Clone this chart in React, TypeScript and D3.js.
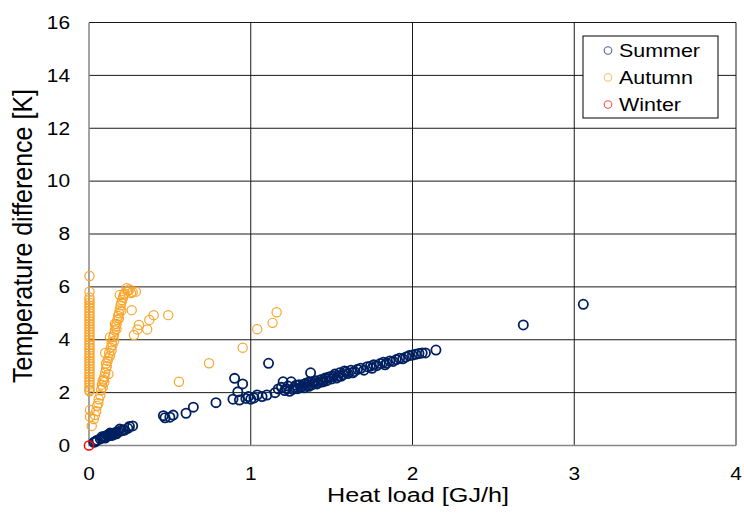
import React, { useEffect, useRef } from "react";
import * as d3 from "d3";

// heat load [GJ/h], temperature difference [K]
const summer: [number, number][] = [
  [0.03, 0.12], [0.04, 0.15], [0.05, 0.2], [0.07, 0.25], [0.08, 0.33], [0.09, 0.3],
  [0.1, 0.35], [0.1, 0.28], [0.11, 0.38], [0.12, 0.4], [0.12, 0.36], [0.13, 0.42],
  [0.13, 0.47], [0.14, 0.45], [0.14, 0.38], [0.15, 0.44], [0.15, 0.4], [0.16, 0.48],
  [0.17, 0.5], [0.17, 0.44], [0.18, 0.52], [0.19, 0.62], [0.2, 0.55], [0.21, 0.6],
  [0.22, 0.58], [0.24, 0.65], [0.25, 0.72], [0.27, 0.74],
  [0.46, 1.13], [0.47, 1.05], [0.5, 1.07], [0.52, 1.15], [0.6, 1.22], [0.645, 1.45],
  [0.785, 1.62], [0.89, 1.75], [0.9, 2.54], [0.92, 2.03], [0.95, 2.33], [0.93, 1.72],
  [0.97, 1.78], [0.985, 1.85], [1.0, 1.75], [1.02, 1.8], [1.04, 1.91], [1.07, 1.85],
  [1.1, 1.91], [1.11, 3.11], [1.15, 2.0], [1.17, 2.14], [1.19, 2.2], [1.2, 2.41],
  [1.21, 2.08], [1.22, 2.15], [1.23, 2.25], [1.24, 2.05], [1.25, 2.41], [1.26, 2.12],
  [1.27, 2.2], [1.28, 2.28], [1.29, 2.15], [1.3, 2.3], [1.31, 2.2], [1.32, 2.25],
  [1.33, 2.32], [1.33, 2.18], [1.34, 2.35], [1.35, 2.28], [1.36, 2.4], [1.36, 2.24],
  [1.37, 2.75], [1.38, 2.4], [1.38, 2.3], [1.39, 2.36], [1.4, 2.45], [1.41, 2.33],
  [1.42, 2.38], [1.43, 2.48], [1.44, 2.5], [1.44, 2.4], [1.45, 2.42], [1.46, 2.55],
  [1.47, 2.45], [1.48, 2.58], [1.49, 2.6], [1.5, 2.52], [1.51, 2.62], [1.52, 2.7],
  [1.53, 2.55], [1.54, 2.62], [1.55, 2.75], [1.56, 2.62], [1.57, 2.68], [1.58, 2.82],
  [1.59, 2.78], [1.6, 2.72], [1.62, 2.85], [1.63, 2.75], [1.64, 2.8], [1.66, 2.88],
  [1.68, 2.92], [1.7, 2.85], [1.72, 2.98], [1.74, 3.0], [1.75, 2.92], [1.76, 3.05],
  [1.78, 3.02], [1.8, 3.1], [1.82, 3.15], [1.83, 3.05], [1.84, 3.12], [1.86, 3.2],
  [1.88, 3.18], [1.9, 3.25], [1.92, 3.3], [1.94, 3.28], [1.96, 3.35], [1.98, 3.4],
  [2.0, 3.42], [2.02, 3.45], [2.04, 3.48], [2.06, 3.5], [2.08, 3.5], [2.145, 3.61],
  [2.685, 4.56], [3.056, 5.34],
];

const autumn: [number, number][] = [
  // column at zero load
  [0.003, 2.05], [0.003, 2.1], [0.003, 2.2], [0.003, 2.3], [0.003, 2.4], [0.003, 2.5],
  [0.003, 2.6], [0.003, 2.7], [0.003, 2.8], [0.003, 2.9], [0.003, 3.0], [0.003, 3.1],
  [0.003, 3.2], [0.003, 3.3], [0.003, 3.4], [0.003, 3.5], [0.003, 3.6], [0.003, 3.7],
  [0.003, 3.8], [0.003, 3.9], [0.003, 4.0], [0.003, 4.1], [0.003, 4.2], [0.003, 4.3],
  [0.003, 4.4], [0.003, 4.5], [0.003, 4.6], [0.003, 4.7], [0.003, 4.8], [0.003, 4.9],
  [0.003, 5.0], [0.003, 5.1], [0.003, 5.2], [0.003, 5.3], [0.003, 5.4], [0.003, 5.5],
  [0.003, 5.6], [0.003, 5.82], [0.003, 6.41],
  [0.006, 1.34], [0.006, 1.09], [0.017, 0.74], [0.03, 1.0], [0.037, 1.15], [0.045, 1.3],
  [0.058, 1.6], [0.05, 1.5], [0.06, 1.75], [0.07, 1.9], [0.075, 2.1], [0.08, 2.3],
  [0.085, 2.2], [0.085, 2.45], [0.09, 2.5], [0.095, 2.6], [0.095, 2.4], [0.1, 2.75],
  [0.1, 3.5], [0.105, 2.9], [0.105, 3.1], [0.11, 3.0], [0.115, 3.2], [0.12, 3.3],
  [0.12, 2.7], [0.125, 3.5], [0.13, 3.4], [0.13, 4.1], [0.135, 3.7], [0.14, 3.9],
  [0.14, 3.6], [0.145, 3.8], [0.15, 4.1], [0.155, 4.2], [0.155, 3.95], [0.16, 4.35],
  [0.16, 4.6], [0.165, 4.5], [0.17, 4.6], [0.17, 4.4], [0.175, 4.75], [0.18, 4.9],
  [0.185, 5.0], [0.185, 4.8], [0.19, 5.15], [0.195, 5.3], [0.2, 5.4], [0.2, 5.1],
  [0.205, 5.5], [0.21, 5.6], [0.215, 5.7], [0.19, 5.69], [0.22, 5.75], [0.233, 5.95],
  [0.24, 5.85], [0.25, 5.9], [0.26, 5.77], [0.27, 5.8], [0.29, 5.82],
  [0.264, 5.12], [0.278, 4.18], [0.3, 4.39], [0.309, 4.56], [0.36, 4.39], [0.373, 4.75],
  [0.4, 4.93], [0.49, 4.93], [0.556, 2.41], [0.742, 3.11], [0.95, 3.7], [1.04, 4.4],
  [1.135, 4.64], [1.16, 5.04],
];

const winter: [number, number][] = [[0, 0]];

const seriesNames = ["Summer", "Autumn", "Winter"];
const seriesColors = ["#002060", "#F9A42A", "#FF0000"];
const xTicks = [0, 1, 2, 3, 4];
const yTicks = [0, 2, 4, 6, 8, 10, 12, 14, 16];

const App = () => {
  const svgRef = useRef<SVGSVGElement>(null);

  useEffect(() => {
    const width = 744;
    const height = 516;
    const font = "'Liberation Sans', Arial, sans-serif";
    const sx = 1.16; // the original text is a little stretched sideways

    const svg = d3.select(svgRef.current);
    svg.selectAll("*").remove();
    svg.attr("width", width).attr("height", height);

    const x = d3.scaleLinear().domain([0, 4]).range([89, 736]);
    const y = d3.scaleLinear().domain([0, 16]).range([445.5, 22.5]);

    svg.append("rect").attr("width", width).attr("height", height).attr("fill", "#fff");

    // gridlines
    const grid = svg.append("g").attr("stroke", "#1a1a1a").attr("stroke-width", 1);
    grid
      .selectAll(".h")
      .data(yTicks.filter((d) => d > 0))
      .join("line")
      .attr("x1", x(0))
      .attr("x2", x(4))
      .attr("y1", (d) => y(d))
      .attr("y2", (d) => y(d));
    grid
      .selectAll(".v")
      .data(xTicks.filter((d) => d > 0))
      .join("line")
      .attr("x1", (d) => x(d))
      .attr("x2", (d) => x(d))
      .attr("y1", y(0))
      .attr("y2", y(16));

    // axis lines
    svg
      .append("path")
      .attr("d", `M${x(0)},${y(16)}V${y(0)}H${x(4)}`)
      .attr("fill", "none")
      .attr("stroke", "#868686")
      .attr("stroke-width", 1.5);

    // tick labels
    svg
      .append("g")
      .selectAll("text")
      .data(yTicks)
      .join("text")
      .attr("transform", (d) => `translate(70, ${y(d)}) scale(${sx}, 1)`)
      .attr("dy", "0.35em")
      .attr("text-anchor", "end")
      .style("font-family", font)
      .style("font-size", "18px")
      .text((d) => d);

    svg
      .append("g")
      .selectAll("text")
      .data(xTicks)
      .join("text")
      .attr("transform", (d) => `translate(${x(d)}, 480) scale(${sx}, 1)`)
      .attr("text-anchor", "middle")
      .style("font-family", font)
      .style("font-size", "18px")
      .text((d) => d);

    // axis titles
    svg
      .append("text")
      .attr("transform", `translate(418, 502) scale(1.2, 1)`)
      .attr("text-anchor", "middle")
      .style("font-family", font)
      .style("font-size", "21px")
      .text("Heat load [GJ/h]");

    svg
      .append("text")
      .attr("transform", `translate(32, 236) rotate(-90) scale(1, 1.12)`)
      .attr("text-anchor", "middle")
      .style("font-family", font)
      .style("font-size", "25px")
      .text("Temperature difference [K]");

    // points
    const data = [summer, autumn, winter];
    const widths = [1.8, 1.2, 1.5];
    data.forEach((pts, i) => {
      svg
        .append("g")
        .selectAll("circle")
        .data(pts)
        .join("circle")
        .attr("cx", (d) => x(d[0]))
        .attr("cy", (d) => y(d[1]))
        .attr("r", 4.6)
        .attr("fill", "none")
        .attr("stroke", seriesColors[i])
        .attr("stroke-width", widths[i]);
    });

    // legend
    const legend = svg.append("g").attr("transform", "translate(583, 36)");
    legend
      .append("rect")
      .attr("width", 135)
      .attr("height", 82)
      .attr("fill", "#fff")
      .attr("stroke", "#000")
      .attr("stroke-width", 1);
    const items = legend
      .selectAll(".item")
      .data(seriesNames)
      .join("g")
      .attr("transform", (d, i) => `translate(0, ${14.5 + i * 27})`);
    items
      .append("circle")
      .attr("cx", 25)
      .attr("cy", 0)
      .attr("r", 3.8)
      .attr("fill", "none")
      .attr("stroke", (d, i) => seriesColors[i])
      .attr("stroke-opacity", 0.7)
      .attr("stroke-width", 1.1);
    items
      .append("text")
      .attr("transform", `translate(36, 0) scale(${sx}, 1)`)
      .attr("dy", "0.35em")
      .style("font-family", font)
      .style("font-size", "18.5px")
      .text((d) => d);
  }, []);

  return <svg ref={svgRef} style={{ position: "absolute", left: 0, top: 0 }}></svg>;
};

export default App;
